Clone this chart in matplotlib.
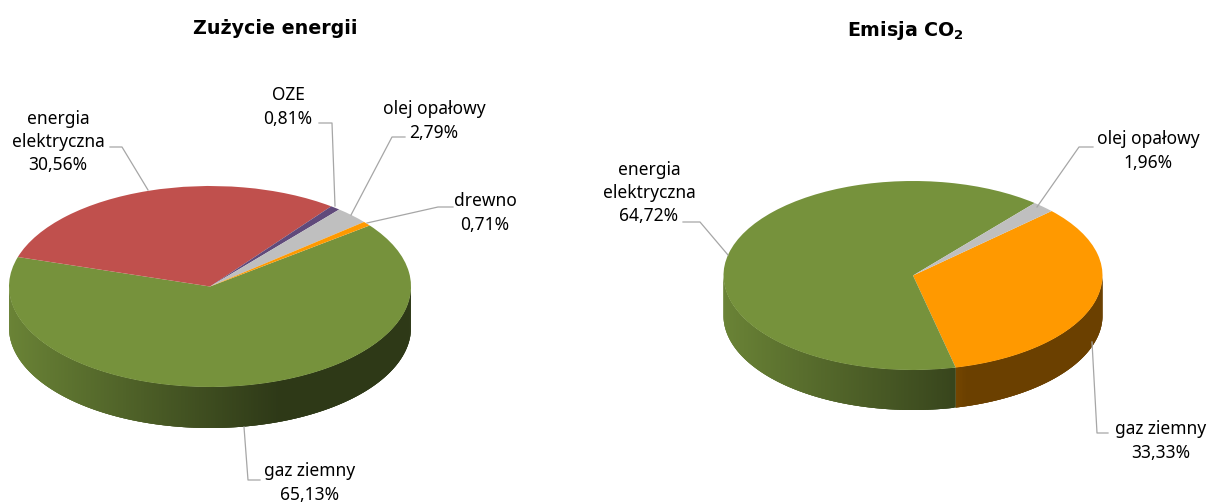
import matplotlib
matplotlib.use('Agg')
import matplotlib.pyplot as plt
import numpy as np
from matplotlib.collections import PolyCollection
from matplotlib.colors import to_rgb

plt.rcParams['font.family'] = ['Noto Sans', 'DejaVu Sans']
plt.rcParams['mathtext.fontset'] = 'dejavusans'

W, H = 1208, 504

# Dane - zużycie energii
energy_names = ['gaz ziemny', 'energia\nelektryczna', 'OZE', 'olej opałowy', 'drewno']
energy_values = [65.13, 30.56, 0.81, 2.79, 0.71]
energy_colors = ['#76923C', '#C0504D', '#604A7B', '#BFBFBF', '#FF9900']

# Dane - emisja CO2
co2_names = ['gaz ziemny', 'energia\nelektryczna', 'olej opałowy']
co2_values = [33.33, 64.72, 1.96]
co2_colors = ['#FF9900', '#76923C', '#BFBFBF']

energy_label_pos = [(310, 483), (58, 142), (288, 107), (434, 121), (485, 213)]
co2_label_pos = [(1161, 441), (649, 193), (1148, 151)]

energy_leaders = [
    [(260, 480), (248, 480), (244, 427)],
    [(110, 147), (122, 147), (148, 190)],
    [(319, 123), (332, 123), (335, 206)],
    [(405, 137), (392, 137), (351, 215)],
    [(453, 207), (438, 207), (367, 223)],
]
co2_leaders = [
    [(1108, 433), (1097, 433), (1092, 342)],
    [(683, 222), (700, 222), (728, 255)],
    [(1093, 147), (1079, 147), (1037, 207)],
]


def pie3d(values, colors, start, cx, cy, rx, ry, depth, shade_x, shade_f):
    # osobna oś dla każdego koła - spłaszczenie daje sam stosunek boków osi
    ax = fig.add_axes([(cx - rx) / W, (H - cy - ry - depth) / H, 2 * rx / W, (2 * ry + depth) / H])
    wedges, _ = ax.pie(values, colors=colors, startangle=start, counterclock=False,
                       radius=1, wedgeprops={'linewidth': 0})
    ax.set_aspect('auto')
    ax.set_xlim(-1, 1)
    ax.set_ylim(-1 - depth / ry, 1)
    ax.axis('off')

    # bok walca - paski z cieniowaniem, każdy zachodzi na poprzedni żeby nie było szwów
    polys, cols = [], []
    for w, c in zip(wedges, colors):
        w.set_zorder(3)
        w.set_clip_on(False)
        thetas = np.append(np.arange(w.theta1, w.theta2, 0.5), w.theta2)
        for i in range(len(thetas) - 1):
            t0, t1 = thetas[max(i - 2, 0)], thetas[i + 1]
            mid = (thetas[i] + t1) / 2
            if np.sin(np.radians(mid)) >= 0:
                continue
            ts = np.radians(np.linspace(t0, t1, 4))
            ts = ts[np.sin(ts) <= 0] if np.sin(ts).max() > 0 else ts
            top = np.column_stack([np.cos(ts), np.sin(ts)])
            bottom = top[::-1] - [0, depth / ry]
            polys.append(np.vstack([top, bottom]))
            f = np.interp(np.cos(np.radians(mid)), shade_x, shade_f)
            cols.append(tuple(np.array(to_rgb(c)) * f))
    side = PolyCollection(polys, facecolors=cols, edgecolors='none', linewidths=0, zorder=1)
    side.set_clip_on(False)
    ax.add_collection(side)
    return ax


fig = plt.figure(figsize=(W / 100, H / 100), dpi=100)

pie3d(energy_values, energy_colors, 37.4, 210, 286.5, 201, 100.5, 41,
      [-1, 0.36, 1], [0.9, 0.39, 0.39])
pie3d(co2_values, co2_colors, 43, 913, 275.5, 189.5, 94.5, 40,
      [-1, 0.22, 0.221, 0.3, 1], [0.9, 0.48, 0.47, 0.42, 0.42])

# podpisy i linie odniesienia w pikselach
over = fig.add_axes([0, 0, 1, 1])
over.set_xlim(0, W)
over.set_ylim(H, 0)
over.axis('off')
over.patch.set_alpha(0)

for names, values, positions, leaders in [
    (energy_names, energy_values, energy_label_pos, energy_leaders),
    (co2_names, co2_values, co2_label_pos, co2_leaders),
]:
    for name, v, (x, y), pts in zip(names, values, positions, leaders):
        label = name + '\n' + f'{v:.2f}'.replace('.', ',') + '%'
        over.text(x, y, label, ha='center', va='center', fontsize=12.5, color='black',
                  linespacing=1.38, clip_on=False)
        over.plot([p[0] for p in pts], [p[1] for p in pts], color='#A6A6A6', lw=0.9)

over.text(275, 28, 'Zużycie energii', ha='center', va='center', fontsize=13.7,
          fontweight='bold', family='DejaVu Sans')
over.text(905, 30, r'Emisja CO$_{\mathbf{2}}$', ha='center', va='center', fontsize=13.7,
          fontweight='bold', family='DejaVu Sans')

plt.savefig('out.png', dpi=100)
